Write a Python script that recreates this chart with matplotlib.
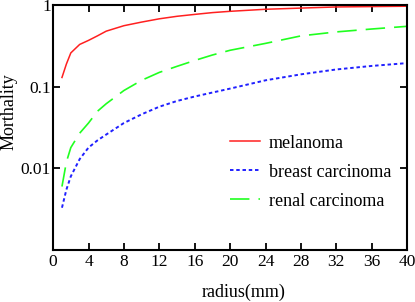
import matplotlib
matplotlib.use("Agg")
import matplotlib.pyplot as plt
from matplotlib.ticker import FixedLocator, FixedFormatter, NullLocator

plt.rcParams['font.family'] = ['Liberation Serif', 'DejaVu Serif']
plt.rcParams['lines.scale_dashes'] = False

radius = [1, 1.5, 2, 3, 4, 5, 6, 8, 10, 12, 14, 16, 18, 20, 24, 28, 32, 36, 40]
melanoma = [0.13, 0.19, 0.26, 0.33, 0.37, 0.42, 0.48, 0.56, 0.62, 0.68, 0.73, 0.77,
            0.81, 0.84, 0.89, 0.92, 0.95, 0.96, 0.97]
breast = [0.0033, 0.0055, 0.008, 0.013, 0.018, 0.022, 0.026, 0.036, 0.046, 0.057,
          0.067, 0.076, 0.085, 0.095, 0.12, 0.142, 0.163, 0.18, 0.195]
renal = [0.006, 0.012, 0.018, 0.027, 0.036, 0.05, 0.062, 0.09, 0.12, 0.15,
         0.178, 0.21, 0.245, 0.28, 0.34, 0.42, 0.47, 0.51, 0.55]

xticks = list(range(0, 41, 4))
yticks = [0.01, 0.1, 1]
yticklabels = ["0.01", "0.1", "1"]

fig = plt.figure(figsize=(4.15, 3.02), dpi=100)
ax = fig.add_axes([0.128, 0.172, 0.853, 0.811])

ax.plot(radius, melanoma, color='#ff2020', lw=1.1, label='melanoma')
ax.plot(radius, breast, color='#2020ff', lw=1.4, dashes=(2.5, 2), label='breast carcinoma')
ax.plot(radius, renal, color='#20ff20', lw=1.2, dashes=(14, 6.5), label='renal carcinoma')

ax.set_yscale('log')
ax.set_xlim(0, 40)
ax.set_ylim(0.001, 1)
ax.xaxis.set_major_locator(FixedLocator(xticks))
ax.yaxis.set_major_locator(FixedLocator(yticks))
ax.yaxis.set_major_formatter(FixedFormatter(yticklabels))
ax.yaxis.set_minor_locator(NullLocator())
ax.tick_params(direction='in', length=5, width=1.3, top=True, right=True,
               labelsize=12.5)
ax.tick_params(axis='y', pad=1.5)
ax.tick_params(axis='x', pad=3)
for s in ax.spines.values():
    s.set_linewidth(1.5)

ax.set_xlabel('radius(mm)', fontsize=13, va='center')
ax.xaxis.set_label_coords(0.537, -0.171)
ax.set_ylabel('Morthality', fontsize=13, va='center')
ax.yaxis.set_label_coords(-0.124, 0.565)

ax.legend(loc='lower left', bbox_to_anchor=(0.5, 0.165), frameon=False, fontsize=13,
          handlelength=1.66, labelspacing=0.66, handletextpad=0.5,
          borderpad=0, borderaxespad=0)

fig.savefig('out.png', dpi=100)
